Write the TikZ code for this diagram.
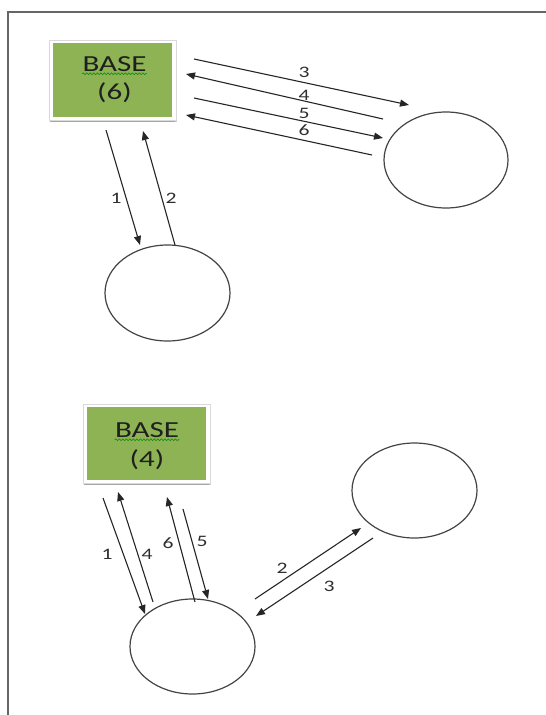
\documentclass[tikz,border=0pt]{standalone}
\usepackage{fontspec}
\setmainfont{Carlito}
\usetikzlibrary{arrows.meta,shapes.geometric,decorations.pathmorphing}
\definecolor{basegreen}{HTML}{8DB355}
\definecolor{inkgray}{HTML}{2E2E2E}
\definecolor{circgray}{HTML}{444444}
\tikzset{
  arr/.style={draw=black!85,line width=1.1pt,-{Triangle[length=9pt,width=7pt]}},
  lbl/.style={text=inkgray,font=\fontsize{16}{16}\selectfont,inner sep=0pt,xscale=1.35},
  circ/.style={draw=circgray,line width=1.2pt,ellipse,inner sep=0pt},
  btxt/.style={text=black!88,font=\fontsize{23}{23}\selectfont,inner sep=0pt,xscale=1.35},
  squig/.style={draw=green!55!black,line width=0.6pt,decorate,decoration={snake,amplitude=0.9pt,segment length=3.5pt}},
}
\newcommand{\basebox}[5]{% name, x1,y1,x2,y2 (green area)
  \fill[black!35] (#2-3,#5+1) rectangle (#4+5,#5+5);
  \fill[black!20] (#4+3,#3-2) rectangle (#4+5,#5+5);
  \draw[black!15,fill=white,line width=0.5pt] (#2-4,#3-3) rectangle (#4+4,#5+3);
  \node[fill=basegreen,inner sep=0pt,minimum width={(#4-#2)*1pt},minimum height={(#5-#3)*1pt},anchor=north west] (#1) at (#2,#3) {};
}
\begin{document}
\begin{tikzpicture}[x=1pt,y=-1pt]
\useasboundingbox (0,0) rectangle (546,715);
\fill[white] (0,0) rectangle (546,715);
% page frame (top and left only)
\draw[black!60,line width=1.6pt] (8,715) -- (8,12) -- (546,12);

% ---------- top diagram ----------
\basebox{boxA}{53}{43}{172}{117}
\node[btxt] (baseA) at (114.5,64) {BASE};
\node[btxt] (numA) at (114.5,93) {(6)};
\draw[squig] ([yshift=-2pt]baseA.south west) -- ([yshift=-2pt]baseA.south east);

\node[circ,minimum width=124pt,minimum height=96pt] (cR) at (446,160) {};
\node[circ,minimum width=125pt,minimum height=96pt] (cB) at (167.5,293) {};

\coordinate (a3s) at (194,59);  \coordinate (a3e) at (409,105);
\coordinate (a4s) at (383,119); \coordinate (a4e) at (186,74);
\coordinate (a5s) at (194,98);  \coordinate (a5e) at (383,138);
\coordinate (a6s) at (372,155); \coordinate (a6e) at (186,115);
\draw[arr] (a3s) -- (a3e);
\draw[arr] (a4s) -- (a4e);
\draw[arr] (a5s) -- (a5e);
\draw[arr] (a6s) -- (a6e);
\node[lbl] (l3) at (304,72) {3};
\node[lbl] (l4) at (304,95) {4};
\node[lbl] (l5) at (304,113) {5};
\node[lbl] (l6) at (304,130) {6};

\coordinate (a1s) at (106,130); \coordinate (a1e) at (140,245);
\coordinate (a2s) at (175,245); \coordinate (a2e) at (143,131);
\draw[arr] (a1s) -- (a1e);
\draw[arr] (a2s) -- (a2e);
\node[lbl] (l1) at (116,198) {1};
\node[lbl] (l2) at (171,198) {2};

% ---------- bottom diagram ----------
\basebox{boxB}{87}{407}{206}{480}
\node[btxt] (baseB) at (147,430) {BASE};
\node[btxt] (numB) at (147,460) {(4)};
\draw[squig] ([yshift=-2pt]baseB.south west) -- ([yshift=-2pt]baseB.south east);

\node[circ,minimum width=125pt,minimum height=95pt] (dB) at (192.5,646.5) {};
\node[circ,minimum width=125pt,minimum height=95pt] (dR) at (414.5,490.5) {};

\coordinate (b1s) at (103,498); \coordinate (b1e) at (145,614);
\coordinate (b4s) at (153,602); \coordinate (b4e) at (118,492);
\coordinate (b6s) at (195,602); \coordinate (b6e) at (167,497);
\coordinate (b5s) at (183,509); \coordinate (b5e) at (208,599);
\draw[arr] (b1s) -- (b1e);
\draw[arr] (b4s) -- (b4e);
\draw[arr] (b6s) -- (b6e);
\draw[arr] (b5s) -- (b5e);
\node[lbl] (m1) at (107,554) {1};
\node[lbl] (m4) at (147,554) {4};
\node[lbl] (m6) at (168,543) {6};
\node[lbl] (m5) at (202,541) {5};

\coordinate (b2s) at (255,599); \coordinate (b2e) at (361,528);
\coordinate (b3s) at (373,538); \coordinate (b3e) at (256,616);
\draw[arr] (b2s) -- (b2e);
\draw[arr] (b3s) -- (b3e);
\node[lbl] (m2) at (282,568) {2};
\node[lbl] (m3) at (329,586) {3};
\end{tikzpicture}
\end{document}
